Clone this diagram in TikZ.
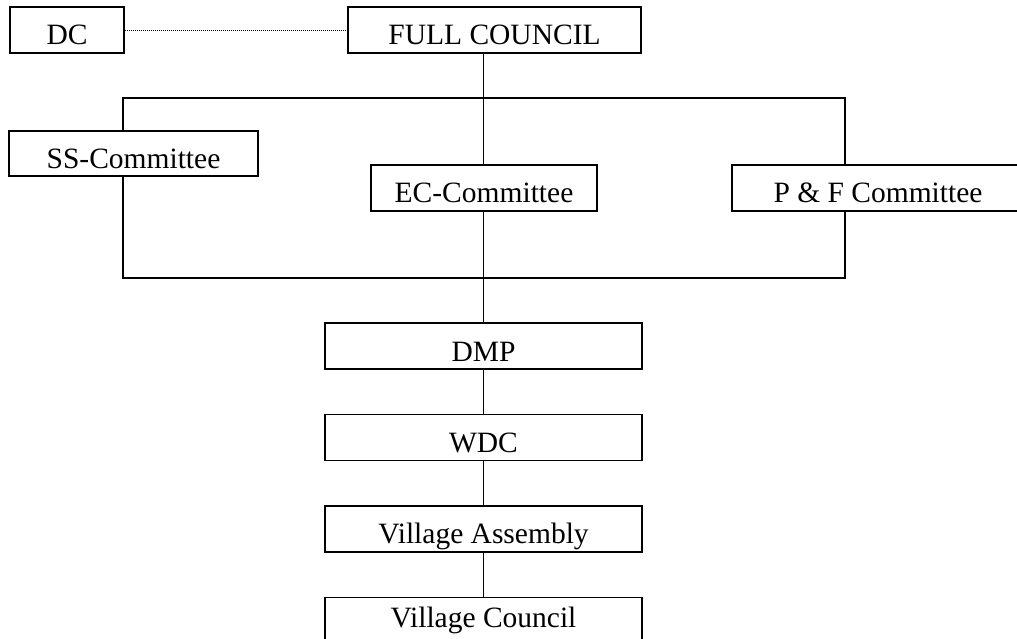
\documentclass[tikz,border=0pt]{standalone}
\usepackage{fontspec}
\setmainfont{Liberation Serif}
\usetikzlibrary{positioning}
\usetikzlibrary{backgrounds}
\tikzset{
  box/.style={
    draw, fill=white, rectangle, line width=1.4pt, inner sep=0pt,
    minimum height=46pt, text height=30pt, text depth=0pt,
    font=\fontsize{29.5}{32}\selectfont,
  },
  link/.style={line width=1.4pt},
  dotlink/.style={line width=0.8pt, dash pattern=on 1pt off 1pt},
}

\begin{document}
\begin{tikzpicture}[x=1pt, y=-1pt, node distance=44pt]
  \useasboundingbox (0,0) rectangle (1017,639);

  % Define nodes
  \node[box, minimum width=114pt] (dc) at (67,30) {DC};
  \node[box, minimum width=293pt] (fc) at (494.5,30) {FULL COUNCIL};

  \node[box, minimum width=249pt, minimum height=45pt] (ss) at (133.5,153.5) {SS-Committee};
  \node[box, minimum width=226pt] (ec) at (484,188) {EC-Committee};
  \node[box, minimum width=292pt] (pf) at (878,188) {P \& F Committee};

  \node[box, minimum width=317pt] (dmp) at (483.5,346) {DMP};
  \node[box, minimum width=317pt, below=of dmp] (wdc) {WDC};
  \node[box, minimum width=317pt, below=of wdc] (va) {Village Assembly};
  \node[box, minimum width=317pt, minimum height=48pt, text height=20pt,
    text depth=7pt, below=of va] (vc) {Village Council};

  \coordinate (bracket nw) at (123,98);
  \coordinate (bracket se) at (845,278);

  % Connect nodes
  \begin{scope}[on background layer]
    \draw[dotlink] (dc.east) -- (fc.west);
    \draw[link] (bracket nw) rectangle (bracket se);
    \draw[link] (fc.south -| dmp.north) -- (dmp.north);
    \draw[link] (dmp) -- (wdc);
    \draw[link] (wdc) -- (va);
    \draw[link] (va) -- (vc);
  \end{scope}

\end{tikzpicture}
\end{document}
